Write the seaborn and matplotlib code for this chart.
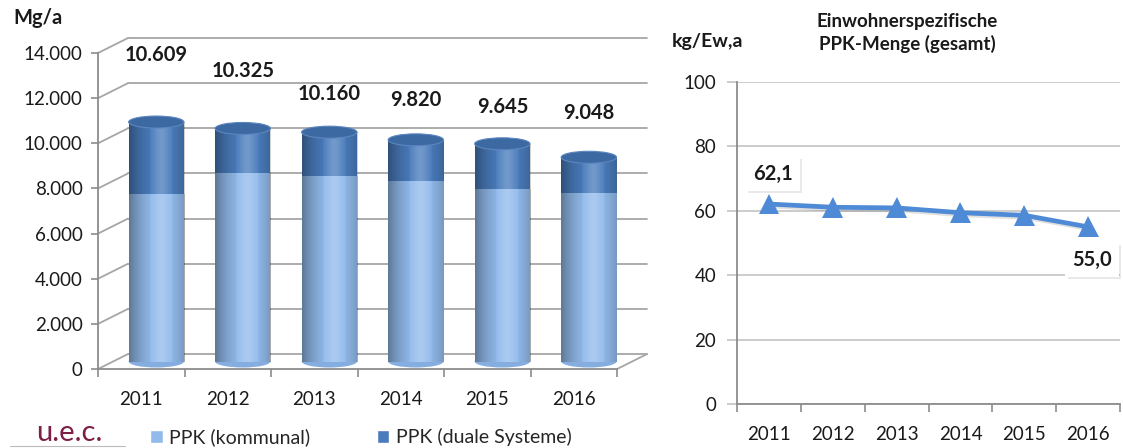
import numpy as np
import pandas as pd
import matplotlib
matplotlib.use("Agg")
import matplotlib.pyplot as plt
import matplotlib.patheffects as pe
from matplotlib.patches import Ellipse, Patch
from matplotlib.lines import Line2D
from matplotlib.ticker import FuncFormatter, FixedLocator
import seaborn as sns

# data
years = ["2011", "2012", "2013", "2014", "2015", "2016"]
kommunal = [7400, 8350, 8220, 7990, 7630, 7450]
duale = [3209, 1975, 1940, 1830, 2015, 1598]
per_capita = [62.1, 61.1, 60.9, 59.4, 58.6, 55.0]

# layout only: how far each total label sits above its bar (pixels)
label_lift = [67, 57, 38, 40, 37, 44]

sns.set_style("white")
plt.rcParams["font.family"] = ["Lato", "DejaVu Sans"]

LIGHT = "#92bbec"
DARK = "#4a7cbc"
TOP = "#3d69a3"
GRID = "#a6a6a6"
AXIS = "#8c8c8c"
LINE = "#4f8ad6"
TXT = "#1a1a1a"


def de_int(v, pos=None):
    return f"{int(v):,}".replace(",", ".")


fig = plt.figure(figsize=(11.23, 4.48), dpi=100)

# ---------- left: stacked "3D" cylinders ----------
ax = fig.add_axes([0.0873, 0.1763, 0.4622, 0.7054])
df = pd.DataFrame({"Jahr": years, "kommunal": kommunal, "duale": duale})
df["gesamt"] = df["kommunal"] + df["duale"]

sns.barplot(data=df, x="Jahr", y="gesamt", color=DARK, saturation=1,
            width=0.64, errorbar=None, ax=ax)
n_dark = len(ax.patches)
sns.barplot(data=df, x="Jahr", y="kommunal", color=LIGHT, saturation=1,
            width=0.64, errorbar=None, ax=ax)
ax.set_xlim(-0.5, 5.5)
ax.set_ylim(0, 14000)

# depth of the fake 3d box, converted from pixels to data units
px_x = ax.transData.transform((1, 0))[0] - ax.transData.transform((0, 0))[0]
px_y = ax.transData.transform((0, 1000))[1] - ax.transData.transform((0, 0))[1]
dxd = 30 / px_x
dyd = 15 / px_y * 1000
ell_h = 12 / px_y * 1000

# back wall grid, side wall diagonals, floor
for v in range(0, 14001, 2000):
    ax.plot([-0.5 + dxd, 5.5 + dxd], [v + dyd, v + dyd], color=GRID, lw=1.3,
            clip_on=False, zorder=0.5)
    ax.plot([-0.5, -0.5 + dxd], [v, v + dyd], color=GRID, lw=1.3,
            clip_on=False, zorder=0.5)
ax.plot([5.5, 5.5 + dxd], [0, dyd], color=GRID, lw=1.3, clip_on=False, zorder=0.5)

# cylinder shading overlay (dark edges, soft highlight right of centre)
t = np.linspace(0, 1, 120)
dark_a = 0.36 * (np.abs(t - 0.58) / 0.58) ** 2
light_a = 0.22 * np.exp(-((t - 0.58) / 0.15) ** 2)
grad = np.zeros((2, t.size, 4))
white = light_a > dark_a
grad[:, white, :3] = 1.0
grad[:, :, 3] = np.maximum(light_a, dark_a)

for k, p in enumerate(list(ax.patches)):
    z = 2.0 if k < n_dark else 2.2
    p.set_zorder(z)
    p.set_x(p.get_x() + dxd / 2)
    p.set_y(p.get_y() + dyd / 2)
    p.set_linewidth(0)
    x0, y0, w, h = p.get_x(), p.get_y(), p.get_width(), p.get_height()
    im = ax.imshow(grad, extent=[x0, x0 + w, y0, y0 + h], aspect="auto",
                   interpolation="bilinear", zorder=z + 0.1)
    im.set_clip_path(p)

totals = df["gesamt"].tolist()
for i, tot in enumerate(totals):
    cx = i + dxd / 2
    ax.add_patch(Ellipse((cx, dyd / 2), 0.64, ell_h, fc="#86addf", ec="none",
                         zorder=1.9, clip_on=False))
    ax.add_patch(Ellipse((cx, tot + dyd / 2), 0.64, ell_h, fc=TOP,
                         ec="#5b86c0", lw=0.8, zorder=3))
    ax.annotate(de_int(tot), xy=(cx, tot + dyd / 2),
                xytext=(0, label_lift[i] * 0.72), textcoords="offset points",
                ha="center", va="center", fontsize=14.5, fontweight="bold",
                color=TXT)

ax.set_xlim(-0.5, 5.5)
ax.set_ylim(0, 14000)
ax.set_yticks(range(0, 14001, 2000))
ax.yaxis.set_major_formatter(FuncFormatter(de_int))
ax.xaxis.set_minor_locator(FixedLocator(np.arange(-0.5, 6, 1)))
ax.tick_params(axis="y", length=5, width=1.2, color=AXIS, labelsize=13.5,
               labelcolor=TXT, pad=6, left=True)
ax.tick_params(axis="x", which="major", length=0, pad=16, labelsize=13.5,
               labelcolor=TXT)
ax.tick_params(axis="x", which="minor", length=6, width=1.2, color=AXIS,
               bottom=True)
ax.set_xlabel("")
ax.set_ylabel("")
for s in ["top", "right"]:
    ax.spines[s].set_visible(False)
for s in ["left", "bottom"]:
    ax.spines[s].set_color(AXIS)
    ax.spines[s].set_linewidth(1.3)
ax.set_facecolor("none")

fig.text(38 / 1123, 1 - 18 / 448, "Mg/a", fontsize=14.5, fontweight="bold",
         ha="center", va="center", color=TXT)

fig.legend(handles=[Patch(fc=LIGHT), Patch(fc=DARK)],
           labels=["PPK (kommunal)", "PPK (duale Systeme)"],
           loc="center left", bbox_to_anchor=(150 / 1123, 1 - 437 / 448),
           ncol=2, frameon=False, fontsize=14, handlelength=0.65,
           handleheight=0.65, handletextpad=0.35, columnspacing=3.4,
           borderpad=0, borderaxespad=0)

fig.text(69 / 1123, 1 - 433 / 448, "u.e.c.", fontsize=21, color="#7d1f45",
         ha="center", va="center")
fig.add_artist(Line2D([10 / 1123, 125 / 1123], [1 - 446 / 448] * 2,
                      color="#bbbbbb", lw=0.8))

# ---------- right: per capita line ----------
ax2 = fig.add_axes([0.6563, 0.0982, 0.3411, 0.7188])
yrs = [int(y) for y in years]
sns.lineplot(x=yrs, y=per_capita, ax=ax2, color=LINE, linewidth=3.4,
             marker="^", markersize=15, markeredgewidth=0,
             path_effects=[pe.SimpleLineShadow(offset=(1.5, -1.5),
                                               shadow_color="k", alpha=0.12),
                           pe.Normal()])
ax2.set_xlim(2010.5, 2016.5)
ax2.set_ylim(0, 100)
ax2.set_yticks(range(0, 101, 20))
ax2.set_xticks(yrs)
ax2.xaxis.set_minor_locator(FixedLocator(np.arange(2010.5, 2017, 1)))
ax2.yaxis.grid(True, color="#c4c4c4", lw=1.2)
ax2.xaxis.grid(False)
ax2.tick_params(axis="y", length=7, width=1.2, color="#c4c4c4", labelsize=13.5,
                labelcolor=TXT, pad=8, left=True)
ax2.tick_params(axis="x", which="major", length=0, pad=16, labelsize=13.5,
                labelcolor=TXT)
ax2.tick_params(axis="x", which="minor", length=6, width=1.2, color=AXIS,
                bottom=True)
for s in ["top", "right"]:
    ax2.spines[s].set_visible(False)
for s in ["left", "bottom"]:
    ax2.spines[s].set_color(AXIS)
    ax2.spines[s].set_linewidth(1.3)

for idx, dy in [(0, 22), (5, -24)]:
    lab = ax2.annotate(f"{per_capita[idx]:.1f}".replace(".", ","),
                       xy=(yrs[idx], per_capita[idx]), xytext=(3, dy),
                       textcoords="offset points", ha="center", va="center",
                       fontsize=14.5, fontweight="bold", color=TXT, zorder=5,
                       bbox=dict(boxstyle="square,pad=0.35", fc="white",
                                 ec="none"))
    lab.get_bbox_patch().set_path_effects(
        [pe.withSimplePatchShadow(offset=(1.5, -1.5), alpha=0.12)])

fig.text(907 / 1123, 1 - 33 / 448, "Einwohnerspezifische\nPPK-Menge (gesamt)",
         fontsize=13.5, fontweight="bold", ha="center", va="center",
         linespacing=1.35, color=TXT)
fig.text(672 / 1123, 1 - 41 / 448, "kg/Ew,a", fontsize=14, fontweight="bold",
         ha="left", va="center", color=TXT)

fig.savefig("out.png", dpi=100)
